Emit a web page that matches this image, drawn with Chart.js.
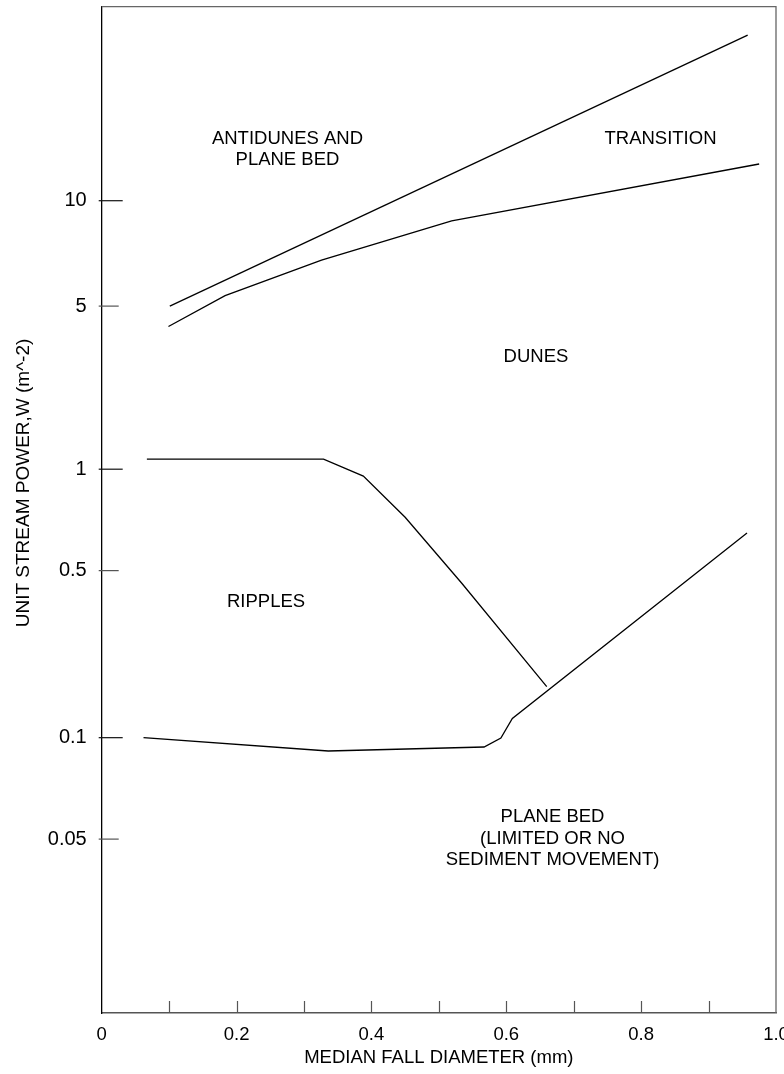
<!DOCTYPE html>
<html>
<head>
<meta charset="utf-8">
<script src="https://cdn.jsdelivr.net/npm/chart.js@4.4.1/dist/chart.umd.min.js"></script>
<style>
  html, body { margin: 0; padding: 0; background: #fff; }
  #wrap { width: 784px; height: 1074px; }
</style>
</head>
<body>
<div id="wrap"><canvas id="chart" width="784" height="1074"></canvas></div>
<script>
// Bedform regime boundaries: median fall diameter (mm) against unit stream power

// Upper limit of the transition zone (antidunes above)
const antiduneX = [0.101, 0.958];
const antiduneY = [4.05, 41.4];

// Lower limit of the transition zone (dunes below)
const transitionX = [0.099, 0.183, 0.326, 0.519, 0.975];
const transitionY = [3.40, 4.43, 6.01, 8.42, 13.7];

// Ripples / dunes boundary
const rippleX = [0.067, 0.329, 0.388, 0.450, 0.534, 0.660];
const rippleY = [1.09, 1.09, 0.943, 0.662, 0.376, 0.155];

// Threshold of sediment movement (plane bed below)
const thresholdX = [0.062, 0.336, 0.567, 0.592, 0.609, 0.957];
const thresholdY = [0.100, 0.0892, 0.0923, 0.0997, 0.118, 0.578];

// Axis ticks
const xTickValues = [0, 0.1, 0.2, 0.3, 0.4, 0.5, 0.6, 0.7, 0.8, 0.9, 1.0];
const xTickLabels = ['0', '', '0.2', '', '0.4', '', '0.6', '', '0.8', '', '1.0'];
const yTickValues = [10, 4.05, 1, 0.419, 0.1, 0.0419];
const yTickLabels = ['10', '5', '1', '0.5', '0.1', '0.05'];

// Regime names and their anchor points (diameter, stream power)
const regionNames = [
  ['ANTIDUNES AND', 'PLANE BED'],
  ['TRANSITION'],
  ['DUNES'],
  ['RIPPLES'],
  ['PLANE BED', '(LIMITED OR NO', 'SEDIMENT MOVEMENT)']
];
const regionX = [0.2755, 0.8287, 0.644, 0.2437, 0.6686];
const regionY = [15.5, 17.0, 2.62, 0.320, 0.0421];

const Y_MIN = 0.00943;
const Y_MAX = 52.8;
const FONT = '"Liberation Sans", Arial, Helvetica, sans-serif';

function series(xs, ys) {
  return {
    data: xs.map((v, i) => ({ x: v, y: ys[i] })),
    borderColor: '#000',
    borderWidth: 1.3,
    pointRadius: 0,
    tension: 0,
    fill: false
  };
}

const decor = {
  id: 'decor',
  afterDatasetsDraw(chart) {
    const { ctx, chartArea: a, scales: { x, y } } = chart;
    ctx.save();

    // top and right edges of the frame
    ctx.strokeStyle = '#666';
    ctx.lineWidth = 1.3;
    ctx.beginPath();
    ctx.moveTo(a.left, a.top);
    ctx.lineTo(a.right, a.top);
    ctx.lineTo(a.right, a.bottom);
    ctx.stroke();

    // y tick marks, pointing into the plot
    y.ticks.forEach((t, i) => {
      const py = y.getPixelForValue(t.value);
      ctx.strokeStyle = i % 2 ? '#555' : '#111';
      ctx.lineWidth = 1.2;
      ctx.beginPath();
      ctx.moveTo(a.left - 3, py);
      ctx.lineTo(a.left + (i % 2 ? 17 : 21), py);
      ctx.stroke();
    });

    // x tick marks, pointing up from the bottom edge
    x.ticks.forEach(t => {
      if (t.value <= 0 || t.value >= 1) return;
      const px = Math.round(x.getPixelForValue(t.value)) + 0.5;
      ctx.strokeStyle = '#555';
      ctx.lineWidth = 1.2;
      ctx.beginPath();
      ctx.moveTo(px, a.bottom - 12);
      ctx.lineTo(px, a.bottom);
      ctx.stroke();
    });

    // regime names
    ctx.fillStyle = '#000';
    ctx.font = '18.5px ' + FONT;
    ctx.textAlign = 'center';
    ctx.textBaseline = 'middle';
    regionNames.forEach((lines, k) => {
      const cx = x.getPixelForValue(regionX[k]);
      const cy = y.getPixelForValue(regionY[k]);
      const lh = 21.3;
      lines.forEach((s, j) => ctx.fillText(s, cx, cy + (j - (lines.length - 1) / 2) * lh));
    });

    // y axis title
    ctx.font = '19px ' + FONT;
    ctx.translate(24, 483);
    ctx.rotate(-Math.PI / 2);
    ctx.fillText('UNIT STREAM POWER,W (m^-2)', 0, 0);

    ctx.restore();
  }
};

new Chart(document.getElementById('chart'), {
  type: 'line',
  data: {
    datasets: [
      series(antiduneX, antiduneY),
      series(transitionX, transitionY),
      series(rippleX, rippleY),
      series(thresholdX, thresholdY)
    ]
  },
  options: {
    responsive: false,
    animation: false,
    devicePixelRatio: 1,
    layout: { padding: { top: 6.7, right: 8, bottom: 0, left: 0 } },
    plugins: { legend: { display: false }, tooltip: { enabled: false } },
    scales: {
      x: {
        type: 'linear',
        min: 0,
        max: 1,
        grid: { display: false, drawTicks: false },
        border: { display: true, color: '#555', width: 1.5 },
        afterBuildTicks: s => { s.ticks = xTickValues.map(v => ({ value: v })); },
        afterFit: s => { s.height = 61; s.paddingLeft = 0; s.paddingRight = 0; },
        ticks: {
          autoSkip: false,
          maxRotation: 0,
          padding: 11.2,
          color: '#000',
          font: { family: FONT, size: 18.5 },
          callback: (v, i) => xTickLabels[i]
        },
        title: {
          display: true,
          text: 'MEDIAN FALL DIAMETER (mm)',
          color: '#000',
          font: { family: FONT, size: 18.5 },
          padding: { top: 0, bottom: 4.9 }
        }
      },
      y: {
        type: 'logarithmic',
        min: Y_MIN,
        max: Y_MAX,
        grid: { display: false, drawTicks: false },
        border: { display: true, color: '#000', width: 1.3 },
        afterBuildTicks: s => { s.ticks = yTickValues.map(v => ({ value: v })); },
        afterFit: s => { s.width = 101.7; s.paddingTop = 0; s.paddingBottom = 0; },
        ticks: {
          autoSkip: false,
          padding: 15,
          color: '#000',
          font: { family: FONT, size: 20 },
          callback: (v, i) => yTickLabels[i]
        }
      }
    }
  },
  plugins: [decor]
});
</script>
</body>
</html>
